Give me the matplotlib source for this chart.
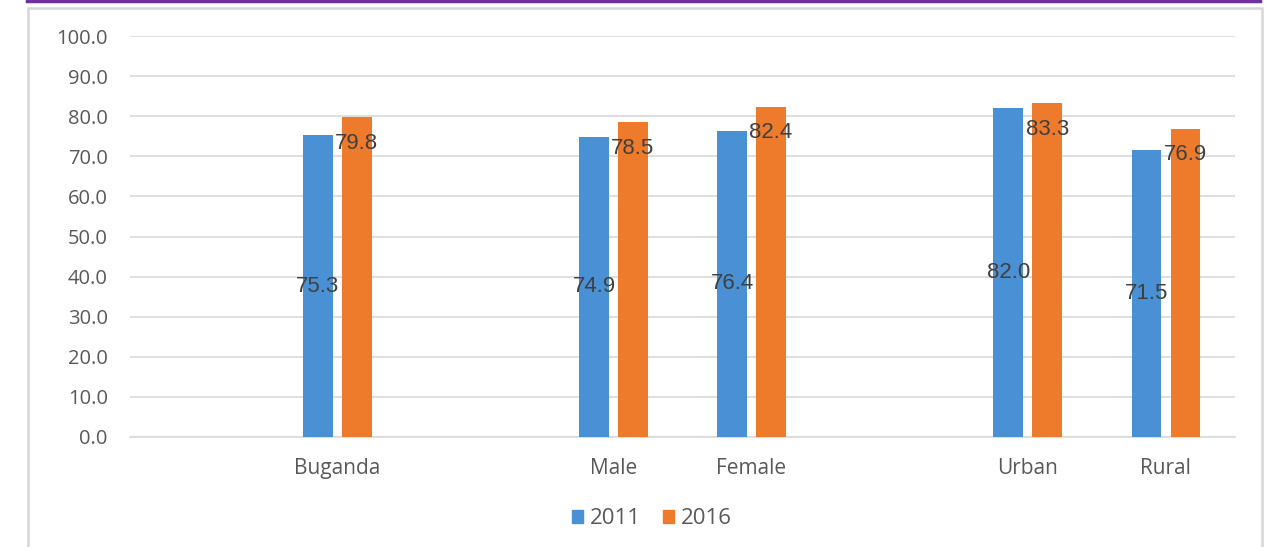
import matplotlib.pyplot as plt
from matplotlib.patches import Rectangle
from matplotlib.lines import Line2D

# Empty strings are spacer slots between the groups
categories = ["", "Buganda", "", "Male", "Female", "", "Urban", "Rural"]
values_2011 = [None, 75.3, None, 74.9, 76.4, None, 82.0, 71.5]
values_2016 = [None, 79.8, None, 78.5, 82.4, None, 83.3, 76.9]
yticks = [0, 10, 20, 30, 40, 50, 60, 70, 80, 90, 100]

BLUE = "#4a90d4"
ORANGE = "#ee7b2c"
TICK_GREY = "#595959"
LABEL_GREY = "#404040"

fig = plt.figure(figsize=(12.7, 5.47), dpi=100)

# outer frame and purple rule at the top
fig.patches.append(Rectangle((28 / 1270, -0.05), 1234 / 1270, 1 - 8 / 547 + 0.05,
                             transform=fig.transFigure, fill=False,
                             edgecolor="#d6d6d6", linewidth=1.8))
fig.lines.append(Line2D([27 / 1270, 1260 / 1270], [0.998, 0.998],
                        transform=fig.transFigure, color="#7030a0", linewidth=2.5))

ax = fig.add_axes([130 / 1270, 1 - 437 / 547, 1105 / 1270, 401 / 547])

width = 0.215
offset = 0.141
pos = list(range(len(categories)))

for i, (a, b) in enumerate(zip(values_2011, values_2016)):
    if a is None:
        continue
    ax.bar(i - offset, a, width, color=BLUE, zorder=3)
    ax.bar(i + offset, b, width, color=ORANGE, zorder=3)
    # 2011 label at the middle of the bar, 2016 label just inside the top
    ax.text(i - offset, a / 2, f"{a:.1f}", ha="center", va="center",
            fontsize=16, color=LABEL_GREY, family="Liberation Sans", zorder=4)
    ax.text(i + offset, b - 6.5, f"{b:.1f}", ha="center", va="center",
            fontsize=16, color=LABEL_GREY, family="Liberation Sans", zorder=4)

ax.set_xlim(-0.5, len(categories) - 0.5)
ax.set_ylim(0, 100)
ax.set_yticks(yticks)
ax.set_yticklabels([f"{t:.1f}" for t in yticks], family="Open Sans",
                   fontsize=14.5, color=TICK_GREY)
ax.set_xticks(pos)
ax.set_xticklabels(categories, family="Open Sans", fontsize=15, color=TICK_GREY)
ax.tick_params(axis="both", length=0)
ax.tick_params(axis="y", pad=16)
ax.tick_params(axis="x", pad=15)

ax.yaxis.grid(True, color="#d9d9d9", linewidth=1.2, zorder=0)
for side in ["top", "right", "left"]:
    ax.spines[side].set_visible(False)
ax.spines["bottom"].set_color("#d9d9d9")
ax.spines["bottom"].set_linewidth(1.2)

handles = [Rectangle((0, 0), 1, 1, color=BLUE), Rectangle((0, 0), 1, 1, color=ORANGE)]
fig.legend(handles, ["2011", "2016"], loc="center", bbox_to_anchor=(652 / 1270, 1 - 519 / 547),
           ncol=2, frameon=False, handlelength=0.5, handleheight=0.5,
           handletextpad=0.3, columnspacing=1.0,
           prop={"family": "Open Sans", "size": 16}, labelcolor=TICK_GREY)

fig.savefig("out.png", dpi=100)
